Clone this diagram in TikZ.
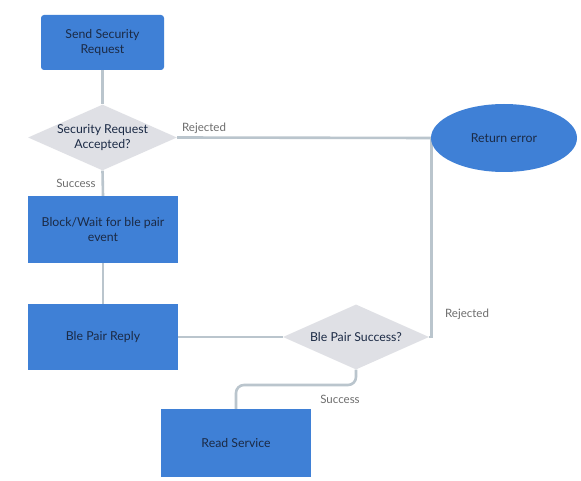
\documentclass[tikz,border=0pt]{standalone}
\usepackage{fontspec}
\setmainfont{Lato}
\usetikzlibrary{shapes.geometric,backgrounds}
\definecolor{boxblue}{HTML}{3F80D6}
\definecolor{diagray}{HTML}{DFE0E5}
\definecolor{linegray}{HTML}{BAC5CD}
\definecolor{txtnavy}{HTML}{1B2A45}
\definecolor{lblgray}{HTML}{6E6E6E}
\begin{document}
\begin{tikzpicture}[x=1pt,y=-1pt,
  nodefont/.style={font=\fontsize{12.3}{14.5}\selectfont},
  procbox/.style={fill=boxblue,draw=none,text=txtnavy,nodefont,align=center,inner sep=0pt},
  decide/.style={diamond,fill=diagray,draw=none,text=txtnavy,nodefont,align=center,inner sep=0pt,aspect=2.26},
  termnode/.style={ellipse,fill=boxblue,draw=none,text=txtnavy,nodefont,inner sep=0pt},
  conn/.style={draw=linegray,line width=2.6pt},
  lbl/.style={text=lblgray,font=\fontsize{11.5}{13}\selectfont,inner sep=0pt}]
\useasboundingbox (0,0) rectangle (581,481);

\node[procbox,rounded corners=3pt,minimum width=123pt,minimum height=55pt] (send) at (102.5,42.5) {Send Security\\Request};
\node[decide,minimum width=147pt,minimum height=65pt] (d1) at (102.5,137.5) {Security Request\\Accepted?};
\node[procbox,minimum width=150pt,minimum height=67pt] (blk) at (103,229.5) {Block/Wait for ble pair\\event};
\node[procbox,minimum width=150pt,minimum height=66pt] (repl) at (103,337) {Ble Pair Reply};
\node[decide,minimum width=146pt,minimum height=65pt] (d2) at (356,337) {Ble Pair Success?};
\node[procbox,minimum width=150pt,minimum height=68pt] (read) at (236,443) {Read Service};
\node[termnode,minimum width=146pt,minimum height=68pt] (err) at (504,138) {Return error};

\coordinate (bend) at (356,385);
\begin{scope}[on background layer]
\fill[white] (0,0) rectangle (581,481);
\draw[conn] (send.south) -- (d1.north);
\draw[conn] (d1.south) -- (blk.north);
\draw[conn] (d1.east) -- (err.west);
\draw[conn] (blk.south) -- (repl.north);
\draw[conn] (repl.east) -- (d2.west);
\draw[conn] (d2.east) -- ++(2,0) |- (err.west);
\draw[conn,rounded corners=8pt] (d2.south) |- (bend -| read.north) -- (read.north);
\end{scope}

\node[lbl] (l1) at (76,183) {Success};
\node[lbl] (l2) at (204,128) {Rejected};
\node[lbl] (l3) at (467,314) {Rejected};
\node[lbl] (l4) at (340,399) {Success};
\end{tikzpicture}
\end{document}
